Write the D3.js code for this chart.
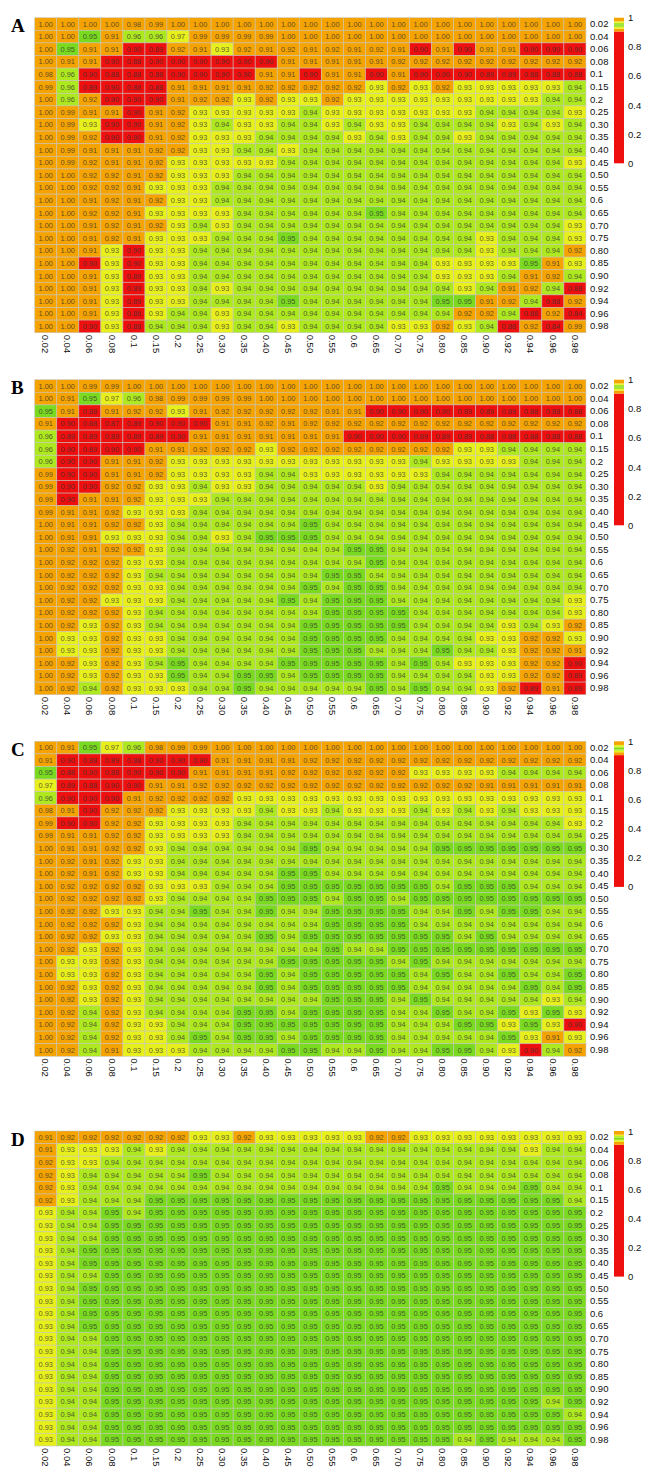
<!DOCTYPE html>
<html>
<head>
<meta charset="utf-8">
<script src="https://cdn.jsdelivr.net/npm/d3@7"></script>
<style>
  body { margin: 0; background: #fff; }
  svg { display: block; }
</style>
</head>
<body>
<svg id="chart" width="655" height="1475"></svg>
<script>
// axis categories (same for both axes)
const xLabels = ["0.02","0.04","0.06","0.08","0.1","0.15","0.2","0.25","0.30","0.35","0.40","0.45","0.50","0.55","0.6","0.65","0.70","0.75","0.80","0.85","0.90","0.92","0.94","0.96","0.98"]
const yLabels = ["0.02","0.04","0.06","0.08","0.1","0.15","0.2","0.25","0.30","0.35","0.40","0.45","0.50","0.55","0.6","0.65","0.70","0.75","0.80","0.85","0.90","0.92","0.94","0.96","0.98"]
const legendTicks = [0, 0.2, 0.4, 0.6, 0.8, 1]
const panelNames = ["A", "B", "C", "D"]

// one row per y label, one value per x label
const panelA = [
  [1.00,1.00,1.00,1.00,0.98,0.99,1.00,1.00,1.00,1.00,1.00,1.00,1.00,1.00,1.00,1.00,1.00,1.00,1.00,1.00,1.00,1.00,1.00,1.00,1.00],
  [1.00,1.00,0.95,0.91,0.96,0.96,0.97,0.99,0.99,0.99,0.99,1.00,1.00,1.00,1.00,1.00,1.00,1.00,1.00,1.00,1.00,1.00,1.00,1.00,1.00],
  [1.00,0.95,0.91,0.91,0.90,0.89,0.92,0.91,0.93,0.92,0.91,0.92,0.91,0.92,0.91,0.92,0.91,0.90,0.91,0.90,0.91,0.91,0.90,0.90,0.90],
  [1.00,0.91,0.91,0.90,0.88,0.90,0.90,0.90,0.90,0.90,0.90,0.91,0.91,0.91,0.91,0.91,0.92,0.92,0.92,0.92,0.92,0.92,0.92,0.92,0.92],
  [0.98,0.96,0.90,0.88,0.88,0.88,0.90,0.90,0.90,0.90,0.91,0.91,0.90,0.91,0.91,0.90,0.91,0.90,0.90,0.90,0.89,0.89,0.88,0.88,0.88],
  [0.99,0.96,0.89,0.90,0.88,0.88,0.91,0.91,0.91,0.91,0.92,0.92,0.92,0.92,0.92,0.93,0.92,0.93,0.92,0.93,0.93,0.93,0.93,0.93,0.94],
  [1.00,0.96,0.92,0.90,0.90,0.90,0.91,0.92,0.92,0.93,0.92,0.93,0.93,0.92,0.93,0.93,0.93,0.93,0.93,0.93,0.93,0.93,0.93,0.94,0.94],
  [1.00,0.99,0.91,0.91,0.90,0.91,0.92,0.93,0.93,0.93,0.93,0.93,0.94,0.93,0.93,0.93,0.93,0.93,0.93,0.93,0.94,0.94,0.94,0.94,0.93],
  [1.00,0.99,0.93,0.90,0.90,0.91,0.92,0.93,0.94,0.93,0.93,0.94,0.94,0.93,0.94,0.93,0.93,0.94,0.94,0.94,0.94,0.93,0.94,0.93,0.94],
  [1.00,0.99,0.92,0.90,0.90,0.91,0.92,0.93,0.93,0.93,0.94,0.94,0.94,0.94,0.93,0.94,0.93,0.94,0.94,0.93,0.94,0.94,0.94,0.94,0.94],
  [1.00,0.99,0.91,0.91,0.91,0.92,0.92,0.93,0.93,0.94,0.94,0.93,0.94,0.94,0.94,0.94,0.94,0.94,0.94,0.94,0.94,0.94,0.94,0.94,0.94],
  [1.00,0.99,0.92,0.91,0.91,0.92,0.93,0.93,0.93,0.93,0.93,0.94,0.94,0.94,0.94,0.94,0.94,0.94,0.94,0.94,0.94,0.94,0.94,0.94,0.93],
  [1.00,1.00,0.92,0.92,0.91,0.92,0.93,0.93,0.93,0.94,0.94,0.94,0.94,0.94,0.94,0.94,0.94,0.94,0.94,0.94,0.94,0.94,0.94,0.94,0.94],
  [1.00,1.00,0.92,0.92,0.91,0.93,0.93,0.93,0.94,0.94,0.94,0.94,0.94,0.94,0.94,0.94,0.94,0.94,0.94,0.94,0.94,0.94,0.94,0.94,0.94],
  [1.00,1.00,0.91,0.92,0.91,0.92,0.93,0.93,0.94,0.94,0.94,0.94,0.94,0.94,0.94,0.94,0.94,0.94,0.94,0.94,0.94,0.94,0.94,0.94,0.94],
  [1.00,1.00,0.92,0.92,0.91,0.93,0.93,0.93,0.93,0.94,0.94,0.94,0.94,0.94,0.94,0.95,0.94,0.94,0.94,0.94,0.94,0.94,0.94,0.94,0.94],
  [1.00,1.00,0.91,0.92,0.91,0.92,0.93,0.94,0.93,0.94,0.94,0.94,0.94,0.94,0.94,0.94,0.94,0.94,0.94,0.94,0.94,0.94,0.94,0.94,0.93],
  [1.00,1.00,0.91,0.92,0.91,0.93,0.93,0.93,0.94,0.94,0.94,0.95,0.94,0.94,0.94,0.94,0.94,0.94,0.94,0.94,0.93,0.94,0.94,0.94,0.93],
  [1.00,1.00,0.91,0.93,0.90,0.93,0.93,0.94,0.94,0.94,0.94,0.94,0.94,0.94,0.94,0.94,0.94,0.94,0.94,0.94,0.93,0.94,0.94,0.94,0.92],
  [1.00,1.00,0.90,0.93,0.90,0.93,0.93,0.94,0.94,0.94,0.94,0.94,0.94,0.94,0.94,0.94,0.94,0.94,0.93,0.93,0.93,0.93,0.95,0.91,0.93],
  [1.00,1.00,0.91,0.93,0.89,0.93,0.93,0.94,0.94,0.94,0.94,0.94,0.94,0.94,0.94,0.94,0.94,0.94,0.93,0.93,0.93,0.94,0.91,0.92,0.94],
  [1.00,1.00,0.91,0.93,0.89,0.93,0.93,0.94,0.93,0.94,0.94,0.94,0.94,0.94,0.94,0.94,0.94,0.94,0.94,0.93,0.94,0.91,0.92,0.94,0.88],
  [1.00,1.00,0.91,0.93,0.89,0.93,0.93,0.94,0.94,0.94,0.94,0.95,0.94,0.94,0.94,0.94,0.94,0.94,0.95,0.95,0.91,0.92,0.94,0.88,0.92],
  [1.00,1.00,0.91,0.93,0.86,0.93,0.94,0.94,0.93,0.94,0.94,0.94,0.94,0.94,0.94,0.94,0.94,0.94,0.94,0.92,0.92,0.94,0.88,0.92,0.84],
  [1.00,1.00,0.90,0.93,0.88,0.94,0.94,0.94,0.93,0.94,0.94,0.93,0.94,0.94,0.94,0.94,0.93,0.93,0.92,0.93,0.94,0.88,0.92,0.84,0.99]
]

const panelB = [
  [1.00,1.00,0.99,0.99,1.00,1.00,1.00,1.00,1.00,1.00,1.00,1.00,1.00,1.00,1.00,1.00,1.00,1.00,1.00,1.00,1.00,1.00,1.00,1.00,1.00],
  [1.00,0.91,0.95,0.97,0.96,0.98,0.99,0.99,0.99,0.99,1.00,1.00,1.00,1.00,1.00,1.00,1.00,1.00,1.00,1.00,1.00,1.00,1.00,1.00,1.00],
  [0.95,0.91,0.88,0.91,0.92,0.92,0.93,0.91,0.92,0.92,0.92,0.92,0.92,0.91,0.91,0.90,0.90,0.90,0.90,0.89,0.89,0.89,0.88,0.88,0.88],
  [0.91,0.90,0.88,0.87,0.89,0.90,0.90,0.90,0.91,0.91,0.92,0.91,0.92,0.92,0.92,0.92,0.92,0.92,0.92,0.92,0.92,0.92,0.92,0.92,0.92],
  [0.96,0.89,0.89,0.89,0.89,0.89,0.90,0.91,0.91,0.91,0.91,0.91,0.91,0.91,0.90,0.90,0.90,0.89,0.89,0.89,0.88,0.88,0.88,0.88,0.88],
  [0.96,0.90,0.89,0.90,0.90,0.91,0.91,0.92,0.92,0.92,0.93,0.92,0.92,0.92,0.92,0.92,0.92,0.92,0.92,0.93,0.93,0.94,0.94,0.94,0.94],
  [0.96,0.90,0.90,0.91,0.91,0.92,0.93,0.93,0.93,0.93,0.93,0.93,0.93,0.93,0.93,0.93,0.93,0.94,0.93,0.93,0.93,0.93,0.94,0.94,0.94],
  [0.99,0.90,0.90,0.91,0.91,0.92,0.93,0.93,0.93,0.93,0.94,0.94,0.93,0.93,0.93,0.93,0.93,0.93,0.94,0.94,0.94,0.94,0.94,0.94,0.94],
  [0.99,0.90,0.90,0.92,0.92,0.93,0.93,0.94,0.93,0.93,0.94,0.94,0.94,0.94,0.94,0.93,0.94,0.94,0.94,0.94,0.94,0.94,0.94,0.94,0.94],
  [0.99,0.90,0.91,0.91,0.92,0.93,0.93,0.93,0.94,0.94,0.94,0.94,0.94,0.94,0.94,0.94,0.94,0.94,0.94,0.94,0.94,0.94,0.94,0.94,0.94],
  [0.99,0.91,0.91,0.92,0.93,0.93,0.93,0.94,0.94,0.94,0.94,0.94,0.94,0.94,0.94,0.94,0.94,0.94,0.94,0.94,0.94,0.94,0.94,0.94,0.94],
  [1.00,0.91,0.91,0.92,0.92,0.93,0.94,0.94,0.94,0.94,0.94,0.94,0.95,0.94,0.94,0.94,0.94,0.94,0.94,0.94,0.94,0.94,0.94,0.94,0.94],
  [1.00,0.91,0.91,0.93,0.93,0.93,0.94,0.94,0.93,0.94,0.95,0.95,0.95,0.94,0.94,0.94,0.94,0.94,0.94,0.94,0.94,0.94,0.94,0.94,0.94],
  [1.00,0.92,0.91,0.92,0.92,0.93,0.94,0.94,0.94,0.94,0.94,0.94,0.94,0.94,0.95,0.95,0.94,0.94,0.94,0.94,0.94,0.94,0.94,0.94,0.94],
  [1.00,0.92,0.92,0.92,0.93,0.93,0.94,0.94,0.94,0.94,0.94,0.94,0.94,0.94,0.94,0.95,0.94,0.94,0.94,0.94,0.94,0.94,0.94,0.94,0.94],
  [1.00,0.92,0.92,0.92,0.93,0.94,0.94,0.94,0.94,0.94,0.94,0.94,0.94,0.95,0.95,0.94,0.94,0.94,0.94,0.94,0.94,0.94,0.94,0.94,0.94],
  [1.00,0.92,0.92,0.92,0.93,0.93,0.94,0.94,0.94,0.94,0.94,0.94,0.95,0.94,0.95,0.95,0.94,0.94,0.94,0.94,0.94,0.94,0.94,0.94,0.94],
  [1.00,0.92,0.92,0.93,0.93,0.93,0.94,0.94,0.94,0.94,0.94,0.95,0.94,0.95,0.95,0.95,0.94,0.94,0.94,0.94,0.94,0.94,0.94,0.94,0.93],
  [1.00,0.92,0.92,0.92,0.93,0.94,0.94,0.94,0.94,0.94,0.94,0.94,0.94,0.95,0.95,0.95,0.95,0.94,0.94,0.94,0.94,0.94,0.94,0.94,0.93],
  [1.00,0.92,0.93,0.92,0.93,0.94,0.94,0.94,0.94,0.94,0.94,0.94,0.95,0.95,0.95,0.95,0.95,0.94,0.94,0.94,0.94,0.93,0.94,0.93,0.92],
  [1.00,0.93,0.93,0.92,0.93,0.93,0.94,0.94,0.94,0.94,0.94,0.94,0.95,0.95,0.95,0.95,0.94,0.94,0.94,0.94,0.93,0.93,0.92,0.92,0.93],
  [1.00,0.93,0.93,0.92,0.93,0.93,0.94,0.94,0.94,0.94,0.94,0.94,0.95,0.95,0.95,0.94,0.94,0.94,0.95,0.94,0.94,0.93,0.92,0.92,0.91],
  [1.00,0.92,0.93,0.92,0.93,0.94,0.95,0.94,0.94,0.94,0.94,0.95,0.95,0.95,0.95,0.95,0.94,0.95,0.94,0.93,0.93,0.93,0.92,0.92,0.90],
  [1.00,0.92,0.93,0.92,0.93,0.93,0.95,0.94,0.94,0.95,0.95,0.94,0.95,0.95,0.95,0.95,0.94,0.94,0.94,0.94,0.93,0.93,0.92,0.92,0.89],
  [1.00,0.92,0.94,0.92,0.93,0.93,0.93,0.94,0.94,0.95,0.94,0.94,0.94,0.94,0.94,0.95,0.94,0.95,0.94,0.94,0.93,0.92,0.89,0.91,0.89]
]

const panelC = [
  [1.00,0.91,0.95,0.97,0.96,0.98,0.99,0.99,1.00,1.00,1.00,1.00,1.00,1.00,1.00,1.00,1.00,1.00,1.00,1.00,1.00,1.00,1.00,1.00,1.00],
  [0.91,0.90,0.88,0.89,0.88,0.90,0.90,0.90,0.91,0.91,0.91,0.91,0.92,0.92,0.92,0.92,0.92,0.92,0.92,0.92,0.92,0.92,0.92,0.92,0.92],
  [0.95,0.88,0.90,0.88,0.90,0.90,0.90,0.91,0.91,0.91,0.91,0.92,0.92,0.92,0.92,0.92,0.92,0.93,0.93,0.93,0.93,0.94,0.94,0.94,0.94],
  [0.97,0.89,0.88,0.90,0.90,0.91,0.91,0.92,0.92,0.92,0.92,0.92,0.92,0.92,0.92,0.92,0.92,0.92,0.92,0.92,0.91,0.91,0.91,0.91,0.91],
  [0.96,0.90,0.90,0.90,0.91,0.92,0.92,0.92,0.92,0.93,0.93,0.93,0.93,0.93,0.93,0.93,0.93,0.93,0.93,0.93,0.93,0.93,0.93,0.93,0.93],
  [0.98,0.91,0.90,0.92,0.92,0.92,0.93,0.93,0.93,0.93,0.94,0.93,0.93,0.94,0.93,0.93,0.93,0.94,0.93,0.94,0.93,0.94,0.93,0.93,0.93],
  [0.99,0.90,0.90,0.92,0.92,0.93,0.93,0.93,0.93,0.94,0.94,0.94,0.94,0.94,0.94,0.94,0.94,0.94,0.94,0.94,0.94,0.94,0.94,0.94,0.93],
  [0.99,0.91,0.91,0.92,0.92,0.93,0.93,0.93,0.93,0.94,0.94,0.94,0.94,0.94,0.94,0.94,0.94,0.94,0.94,0.94,0.94,0.94,0.94,0.94,0.94],
  [1.00,0.91,0.91,0.92,0.92,0.93,0.94,0.94,0.94,0.94,0.94,0.94,0.95,0.94,0.94,0.94,0.94,0.94,0.95,0.95,0.95,0.95,0.95,0.95,0.95],
  [1.00,0.92,0.91,0.92,0.93,0.93,0.94,0.94,0.94,0.94,0.94,0.94,0.94,0.94,0.94,0.94,0.94,0.94,0.94,0.94,0.94,0.94,0.94,0.94,0.94],
  [1.00,0.92,0.91,0.92,0.93,0.93,0.94,0.94,0.94,0.94,0.94,0.95,0.95,0.94,0.94,0.94,0.94,0.94,0.94,0.94,0.94,0.94,0.94,0.94,0.94],
  [1.00,0.92,0.92,0.92,0.92,0.93,0.93,0.93,0.94,0.94,0.94,0.95,0.95,0.95,0.95,0.95,0.95,0.95,0.94,0.95,0.95,0.95,0.94,0.94,0.94],
  [1.00,0.92,0.92,0.92,0.92,0.93,0.94,0.94,0.94,0.94,0.95,0.95,0.95,0.94,0.95,0.95,0.94,0.95,0.95,0.95,0.95,0.95,0.95,0.95,0.95],
  [1.00,0.92,0.92,0.93,0.93,0.94,0.94,0.95,0.94,0.94,0.95,0.94,0.94,0.95,0.95,0.95,0.95,0.94,0.94,0.95,0.94,0.95,0.95,0.94,0.94],
  [1.00,0.92,0.92,0.92,0.93,0.94,0.94,0.94,0.94,0.94,0.94,0.94,0.94,0.95,0.95,0.95,0.95,0.94,0.94,0.94,0.94,0.94,0.94,0.94,0.94],
  [1.00,0.92,0.92,0.93,0.93,0.94,0.94,0.94,0.94,0.94,0.95,0.94,0.95,0.95,0.95,0.95,0.95,0.95,0.95,0.94,0.95,0.94,0.94,0.94,0.94],
  [1.00,0.92,0.93,0.92,0.93,0.94,0.94,0.94,0.94,0.94,0.94,0.94,0.94,0.95,0.94,0.94,0.95,0.95,0.95,0.95,0.95,0.95,0.95,0.95,0.95],
  [1.00,0.93,0.93,0.92,0.93,0.94,0.94,0.94,0.94,0.94,0.94,0.95,0.95,0.95,0.95,0.95,0.94,0.95,0.94,0.94,0.94,0.94,0.94,0.94,0.94],
  [1.00,0.93,0.93,0.92,0.93,0.94,0.94,0.94,0.94,0.94,0.95,0.94,0.95,0.95,0.95,0.95,0.95,0.94,0.95,0.94,0.94,0.95,0.94,0.94,0.95],
  [1.00,0.92,0.93,0.92,0.93,0.94,0.94,0.94,0.94,0.94,0.95,0.94,0.95,0.95,0.95,0.95,0.95,0.94,0.94,0.94,0.94,0.94,0.95,0.94,0.95],
  [1.00,0.92,0.93,0.92,0.93,0.94,0.94,0.94,0.94,0.94,0.94,0.94,0.94,0.95,0.95,0.95,0.94,0.95,0.94,0.94,0.94,0.94,0.94,0.93,0.94],
  [1.00,0.92,0.94,0.92,0.93,0.94,0.94,0.94,0.94,0.95,0.95,0.94,0.95,0.95,0.95,0.95,0.94,0.94,0.95,0.94,0.94,0.95,0.93,0.95,0.93],
  [1.00,0.92,0.94,0.92,0.93,0.93,0.94,0.94,0.94,0.95,0.95,0.95,0.95,0.95,0.95,0.95,0.94,0.94,0.94,0.95,0.95,0.93,0.95,0.93,0.90],
  [1.00,0.92,0.94,0.92,0.93,0.93,0.94,0.95,0.94,0.95,0.95,0.94,0.95,0.95,0.95,0.95,0.94,0.94,0.94,0.94,0.94,0.95,0.93,0.91,0.93],
  [1.00,0.92,0.94,0.91,0.93,0.93,0.93,0.94,0.94,0.94,0.94,0.95,0.95,0.94,0.94,0.95,0.94,0.94,0.95,0.95,0.94,0.93,0.90,0.94,0.92]
]

const panelD = [
  [0.91,0.92,0.92,0.92,0.92,0.92,0.92,0.93,0.93,0.92,0.93,0.93,0.93,0.93,0.93,0.92,0.92,0.93,0.93,0.93,0.93,0.93,0.93,0.93,0.93],
  [0.91,0.93,0.93,0.93,0.94,0.93,0.94,0.94,0.94,0.94,0.94,0.94,0.94,0.94,0.94,0.94,0.94,0.94,0.94,0.94,0.94,0.94,0.93,0.94,0.94],
  [0.92,0.93,0.93,0.94,0.94,0.94,0.94,0.94,0.94,0.94,0.94,0.94,0.94,0.94,0.94,0.94,0.94,0.94,0.94,0.94,0.94,0.94,0.94,0.94,0.94],
  [0.92,0.93,0.94,0.94,0.94,0.94,0.94,0.95,0.94,0.94,0.94,0.94,0.94,0.94,0.94,0.94,0.94,0.94,0.94,0.94,0.94,0.94,0.94,0.94,0.94],
  [0.92,0.93,0.94,0.94,0.94,0.94,0.94,0.94,0.94,0.94,0.94,0.94,0.94,0.94,0.94,0.94,0.94,0.94,0.95,0.94,0.94,0.94,0.95,0.94,0.94],
  [0.92,0.93,0.94,0.94,0.94,0.95,0.95,0.95,0.95,0.95,0.95,0.95,0.95,0.95,0.95,0.95,0.95,0.95,0.95,0.95,0.95,0.95,0.95,0.95,0.94],
  [0.93,0.94,0.94,0.95,0.94,0.95,0.95,0.95,0.95,0.95,0.95,0.95,0.95,0.95,0.95,0.95,0.95,0.95,0.95,0.95,0.95,0.95,0.95,0.95,0.95],
  [0.93,0.94,0.94,0.95,0.95,0.95,0.95,0.95,0.95,0.95,0.95,0.95,0.95,0.95,0.95,0.95,0.95,0.95,0.95,0.95,0.95,0.95,0.95,0.95,0.95],
  [0.93,0.94,0.94,0.95,0.95,0.95,0.95,0.95,0.95,0.95,0.95,0.95,0.95,0.95,0.95,0.95,0.95,0.95,0.95,0.95,0.95,0.95,0.95,0.95,0.95],
  [0.93,0.94,0.95,0.95,0.95,0.95,0.95,0.95,0.95,0.95,0.95,0.95,0.95,0.95,0.95,0.95,0.95,0.95,0.95,0.95,0.95,0.95,0.95,0.95,0.95],
  [0.93,0.94,0.95,0.95,0.95,0.95,0.95,0.95,0.95,0.95,0.95,0.95,0.95,0.95,0.95,0.95,0.95,0.95,0.95,0.95,0.95,0.95,0.95,0.95,0.95],
  [0.93,0.94,0.94,0.95,0.95,0.95,0.95,0.95,0.95,0.95,0.95,0.95,0.95,0.95,0.95,0.95,0.95,0.95,0.95,0.95,0.95,0.95,0.95,0.95,0.95],
  [0.93,0.94,0.95,0.95,0.95,0.95,0.95,0.95,0.95,0.95,0.95,0.95,0.95,0.95,0.95,0.95,0.95,0.95,0.95,0.95,0.95,0.95,0.95,0.95,0.95],
  [0.93,0.94,0.95,0.95,0.95,0.95,0.95,0.95,0.95,0.95,0.95,0.95,0.95,0.95,0.95,0.95,0.95,0.95,0.95,0.95,0.95,0.95,0.95,0.95,0.95],
  [0.93,0.94,0.95,0.95,0.95,0.95,0.95,0.95,0.95,0.95,0.95,0.95,0.95,0.95,0.95,0.95,0.95,0.95,0.95,0.95,0.95,0.95,0.95,0.95,0.95],
  [0.93,0.94,0.95,0.95,0.95,0.95,0.95,0.95,0.95,0.95,0.95,0.95,0.95,0.95,0.95,0.95,0.95,0.95,0.95,0.95,0.95,0.95,0.95,0.95,0.95],
  [0.93,0.94,0.94,0.95,0.95,0.95,0.95,0.95,0.95,0.95,0.95,0.95,0.95,0.95,0.95,0.95,0.95,0.95,0.95,0.95,0.95,0.95,0.95,0.95,0.95],
  [0.93,0.94,0.94,0.95,0.95,0.95,0.95,0.95,0.95,0.95,0.95,0.95,0.95,0.95,0.95,0.95,0.95,0.95,0.95,0.95,0.95,0.95,0.95,0.95,0.95],
  [0.93,0.94,0.94,0.95,0.95,0.95,0.95,0.95,0.95,0.95,0.95,0.95,0.95,0.95,0.95,0.95,0.95,0.95,0.95,0.95,0.95,0.95,0.95,0.95,0.95],
  [0.93,0.94,0.94,0.95,0.95,0.95,0.95,0.95,0.95,0.95,0.95,0.95,0.95,0.95,0.95,0.95,0.95,0.95,0.95,0.95,0.95,0.95,0.95,0.95,0.95],
  [0.93,0.94,0.94,0.95,0.95,0.95,0.95,0.95,0.95,0.95,0.95,0.95,0.95,0.95,0.95,0.95,0.95,0.95,0.95,0.95,0.95,0.95,0.95,0.95,0.95],
  [0.93,0.94,0.94,0.95,0.95,0.95,0.95,0.95,0.95,0.95,0.95,0.95,0.95,0.95,0.95,0.95,0.95,0.95,0.95,0.95,0.95,0.95,0.95,0.94,0.95],
  [0.93,0.94,0.94,0.95,0.95,0.95,0.95,0.95,0.95,0.95,0.95,0.95,0.95,0.95,0.95,0.95,0.95,0.95,0.95,0.95,0.95,0.95,0.95,0.95,0.94],
  [0.93,0.94,0.94,0.95,0.95,0.95,0.95,0.95,0.95,0.95,0.95,0.95,0.95,0.95,0.95,0.95,0.95,0.95,0.95,0.95,0.95,0.95,0.95,0.95,0.95],
  [0.93,0.94,0.94,0.95,0.95,0.95,0.95,0.95,0.95,0.95,0.95,0.95,0.95,0.95,0.95,0.95,0.95,0.95,0.95,0.94,0.95,0.94,0.94,0.94,0.95]
]

const panelValues = [panelA, panelB, panelC, panelD]

// layout
const left = 34.7
const cellW = 22.05
const cellH = 12.6
const panelTops = [17.7, 379.7, 741.3, 1131]
const barX = 614
const barW = 10
const barH = 145.6
const fontSans = "'Liberation Sans', Arial, sans-serif"

// binned palette, symmetric around 0.95
const red = "#ee0f0f", orange = "#f5a300", yellow = "#e8f01c", lgreen = "#aee81f", green = "#7ada1f"
const color = d3.scaleThreshold()
  .domain([0.905, 0.925, 0.935, 0.945, 0.955, 0.965, 0.975])
  .range([red, orange, yellow, lgreen, green, lgreen, yellow, orange])

const fmt = d3.format(".2f")
const svg = d3.select("#chart")

panelValues.forEach((values, p) => {
  const top = panelTops[p]
  const g = svg.append("g")

  const x = d3.scaleBand().domain(xLabels).range([left, left + xLabels.length * cellW])
  const y = d3.scaleBand().domain(yLabels).range([top, top + yLabels.length * cellH])

  const cells = values.flatMap((row, i) => row.map((v, j) => ({ r: yLabels[i], c: xLabels[j], v })))

  g.selectAll("rect.cell")
    .data(cells)
    .join("rect")
    .attr("class", "cell")
    .attr("x", d => x(d.c))
    .attr("y", d => y(d.r))
    .attr("width", x.bandwidth())
    .attr("height", y.bandwidth())
    .attr("fill", d => color(d.v))
    .attr("stroke", "#c4c4c4")
    .attr("stroke-opacity", 0.75)
    .attr("stroke-width", 0.7)

  g.selectAll("text.val")
    .data(cells)
    .join("text")
    .attr("class", "val")
    .attr("x", d => x(d.c) + x.bandwidth() / 2)
    .attr("y", d => y(d.r) + y.bandwidth() / 2)
    .attr("dy", "0.35em")
    .attr("text-anchor", "middle")
    .attr("font-family", fontSans)
    .attr("font-size", 7.4)
    .attr("fill", "#333")
    .attr("fill-opacity", 0.8)
    .text(d => fmt(d.v))

  // x axis, labels turned downwards
  const xAxis = g.append("g")
    .attr("transform", `translate(0,${y.range()[1]})`)
    .call(d3.axisBottom(x).tickSize(0).tickPadding(0))
  xAxis.select(".domain").remove()
  xAxis.selectAll("text")
    .attr("transform", "rotate(90)")
    .attr("x", 2)
    .attr("y", 0)
    .attr("dy", "0.35em")
    .attr("text-anchor", "start")
    .attr("font-family", fontSans)
    .attr("font-size", 9.5)
    .attr("fill", "#111")

  // y axis on the right
  const yAxis = g.append("g")
    .attr("transform", `translate(${x.range()[1]},0)`)
    .call(d3.axisRight(y).tickSize(0).tickPadding(4))
  yAxis.select(".domain").remove()
  yAxis.selectAll("text")
    .attr("font-family", fontSans)
    .attr("font-size", 9.5)
    .attr("fill", "#111")

  // colour key
  const ly = d3.scaleLinear().domain([0, 1]).range([top + barH, top])
  const edges = [0, ...color.domain(), 1]
  g.selectAll("rect.key")
    .data(d3.pairs(edges))
    .join("rect")
    .attr("class", "key")
    .attr("x", barX)
    .attr("width", barW)
    .attr("y", d => ly(d[1]))
    .attr("height", d => ly(d[0]) - ly(d[1]))
    .attr("fill", d => color((d[0] + d[1]) / 2))

  const keyAxis = g.append("g")
    .attr("transform", `translate(${barX + barW},0)`)
    .call(d3.axisRight(ly).tickValues(legendTicks).tickFormat(d3.format("")).tickSize(0).tickPadding(4))
  keyAxis.select(".domain").remove()
  keyAxis.selectAll("text")
    .attr("font-family", fontSans)
    .attr("font-size", 9.5)
    .attr("fill", "#111")

  // panel letter
  g.append("text")
    .attr("x", 11)
    .attr("y", top + 14.6)
    .attr("font-family", "'Liberation Serif', 'Times New Roman', serif")
    .attr("font-weight", "bold")
    .attr("font-size", 19)
    .text(panelNames[p])
})
</script>
</body>
</html>
